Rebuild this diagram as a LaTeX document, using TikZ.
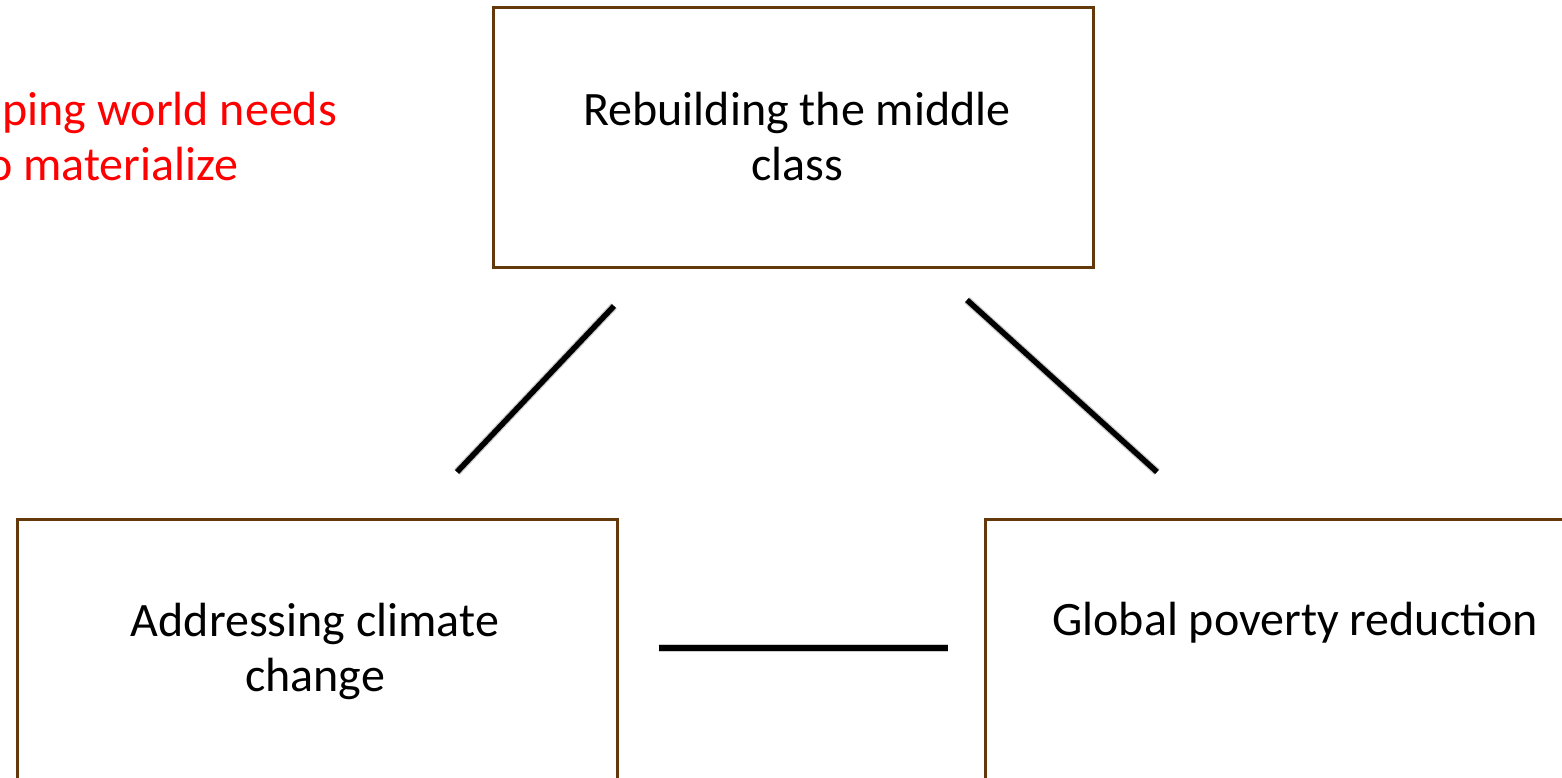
\documentclass[tikz,border=0pt]{standalone}
\usepackage{fontspec}
\setmainfont{Carlito}
\definecolor{boxbrown}{RGB}{99,57,12}
\definecolor{redtext}{RGB}{255,0,0}
\tikzset{
  box/.style={draw=boxbrown, line width=3pt, fill=white, rectangle, inner sep=0pt},
  label/.style={font=\fontsize{48}{55}\selectfont, align=center, inner sep=0pt, anchor=base},
  redlabel/.style={font=\fontsize{48}{55}\selectfont, text=redtext, inner sep=0pt, anchor=base west},
  link/.style={line width=5.5pt, black},
  linkshadow/.style={line width=8pt, black!50, opacity=0.4, shift={(2.5pt,-3pt)}},
}
\begin{document}
\begin{tikzpicture}[x=1pt,y=-1pt]
\useasboundingbox (0,0) rectangle (1562,777);
\clip (0,0) rectangle (1562,777);
% boxes
\node[box, minimum width=600pt, minimum height=260pt, anchor=north west] (top) at (491.5,5.5) {};
\node[box, minimum width=600pt, minimum height=261pt, anchor=north west] (left) at (15.5,517.5) {};
\node[box, minimum width=640pt, minimum height=261pt, anchor=north west] (right) at (983.5,517.5) {};
% texts (base anchor = last line's baseline)
\node[label] (ttop) at (797,180) {Rebuilding the middle\\class};
\node[label] (tleft) at (315,691) {Addressing climate\\change};
\node[label] (tright) at (1295,635) {Global poverty reduction};
\node[redlabel] (red1) at (2,125) {ping world needs};
\node[redlabel] (red2) at (-13,180) {o materialize};
% connector ends
\coordinate (a1) at (614,306);
\coordinate (a2) at (457,472);
\coordinate (b1) at (967,300);
\coordinate (b2) at (1157,472);
\coordinate (c1) at (659,648);
\coordinate (c2) at (948,648);
% shadows
\draw[linkshadow] (a1) -- (a2);
\draw[linkshadow] (b1) -- (b2);
\draw[linkshadow] (c1) -- (c2);
% links
\draw[link] (a1) -- (a2);
\draw[link] (b1) -- (b2);
\draw[link] (c1) -- (c2);
\end{tikzpicture}
\end{document}
